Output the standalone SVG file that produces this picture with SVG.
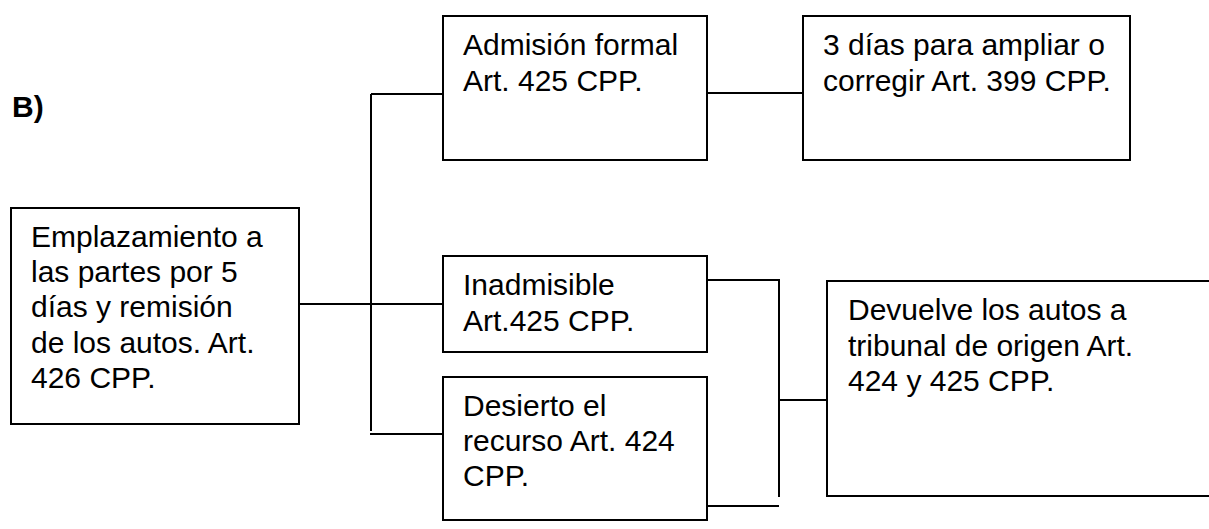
<svg xmlns="http://www.w3.org/2000/svg" width="1209" height="529" viewBox="0 0 1209 529">
<style>
.box{fill:#fff;stroke:#000;stroke-width:2}
.ln{fill:none;stroke:#000;stroke-width:2}
.t{font-family:"Liberation Sans",Arial,sans-serif;font-size:30px;fill:#000}
.b{font-family:"Liberation Sans",Arial,sans-serif;font-size:30px;font-weight:bold;fill:#000}
</style>
<rect width="1209" height="529" fill="#fff"/>
<text class="b" x="12" y="117">B)</text>
<g id="connectors">
<path class="ln" d="M299 304 H443"/>
<path class="ln" d="M371 94 V431"/>
<path class="ln" d="M371 94 H443"/>
<path class="ln" d="M370 434 H443"/>
<path class="ln" d="M707 93 H803"/>
<path class="ln" d="M707 280 H779 V497"/>
<path class="ln" d="M707 506 H779"/>
<path class="ln" d="M779 400 H827"/>
</g>
<g id="n1">
<rect class="box" x="11" y="208" width="288" height="216"/>
<text class="t" x="31" y="247">Emplazamiento a</text>
<text class="t" x="31" y="282">las partes por 5</text>
<text class="t" x="31" y="317">días y remisión</text>
<text class="t" x="31" y="353">de los autos. Art.</text>
<text class="t" x="31" y="388">426 CPP.</text>
</g>
<g id="n2">
<rect class="box" x="443" y="16" width="264" height="144"/>
<text class="t" x="463" y="55">Admisión formal</text>
<text class="t" x="463" y="91">Art. 425 CPP.</text>
</g>
<g id="n3">
<rect class="box" x="803" y="16" width="327" height="144"/>
<text class="t" x="823" y="55">3 días para ampliar o</text>
<text class="t" x="823" y="91">corregir Art. 399 CPP.</text>
</g>
<g id="n4">
<rect class="box" x="443" y="256" width="264" height="96"/>
<text class="t" x="463" y="295">Inadmisible</text>
<text class="t" x="463" y="331">Art.425 CPP.</text>
</g>
<g id="n5">
<rect class="box" x="443" y="377" width="264" height="143"/>
<text class="t" x="463" y="416">Desierto el</text>
<text class="t" x="463" y="451">recurso Art. 424</text>
<text class="t" x="463" y="486">CPP.</text>
</g>
<g id="n6">
<rect class="box" x="827" y="281" width="400" height="215"/>
<text class="t" x="848" y="320">Devuelve los autos a</text>
<text class="t" x="848" y="356">tribunal de origen Art.</text>
<text class="t" x="848" y="391">424 y 425 CPP.</text>
</g>
</svg>
